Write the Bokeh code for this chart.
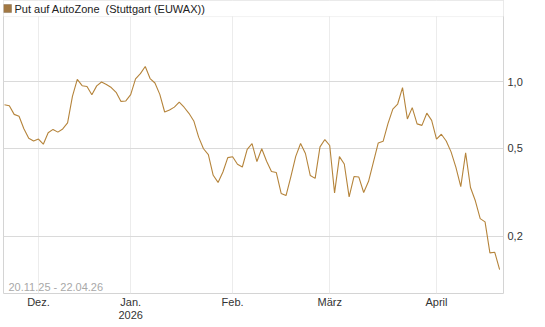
import pandas as pd
from bokeh.plotting import figure
from bokeh.models import (Range1d, FixedTicker, CustomJSTickFormatter, Label,
                          BoxAnnotation)
from bokeh.embed import file_html
from bokeh.resources import INLINE

title = "Put auf AutoZone\u00a0\u00a0(Stuttgart (EUWAX))"
range_text = "20.11.25 - 22.04.26"

holidays = ["2025-12-24", "2025-12-25", "2025-12-26", "2025-12-31",
            "2026-01-01", "2026-04-03", "2026-04-06"]
dates = [d for d in pd.bdate_range("2025-11-20", "2026-04-22")
         if d.strftime("%Y-%m-%d") not in holidays]

values = [0.786, 0.778, 0.711, 0.697, 0.612, 0.555, 0.539, 0.550, 0.521, 0.587,
          0.608, 0.591, 0.611, 0.651, 0.857, 1.024, 0.959, 0.950, 0.873, 0.957,
          0.996, 0.971, 0.940, 0.895, 0.814, 0.818, 0.874, 1.029, 1.087, 1.171,
          1.033, 0.986, 0.876, 0.729, 0.745, 0.767, 0.807, 0.766, 0.719, 0.664,
          0.561, 0.497, 0.468, 0.377, 0.350, 0.390, 0.453, 0.457, 0.423, 0.411,
          0.494, 0.524, 0.435, 0.497, 0.436, 0.392, 0.388, 0.312, 0.305, 0.372,
          0.459, 0.525, 0.473, 0.376, 0.365, 0.507, 0.547, 0.514, 0.314, 0.458,
          0.424, 0.301, 0.372, 0.370, 0.315, 0.354, 0.432, 0.528, 0.537, 0.646,
          0.751, 0.792, 0.939, 0.678, 0.763, 0.644, 0.634, 0.720, 0.668, 0.550,
          0.578, 0.539, 0.481, 0.409, 0.335, 0.476, 0.332, 0.289, 0.240, 0.232,
          0.168, 0.169, 0.141]

month_labels = ["Dez.", "Jan.\n2026", "Feb.", "März", "April"]
y_ticks = [0.2, 0.5, 1.0]

n = min(len(dates), len(values))
idx = list(range(n))
values = values[:n]

month_idx = []
for i in range(1, len(dates)):
    if dates[i].month != dates[i - 1].month:
        month_idx.append(i)

FONT = "Liberation Sans"
LINE = "#b5843b"
X0, X1 = -0.2, 102.8
Y0, Y1 = 0.110, 1.97          # visible data area
PX_PER_DEC = 220.0
PX_PER_X = 500.0 / (X1 - X0)
TOP_PX = 16                   # header strip above data area
Y1_EXT = Y1 * 10 ** (TOP_PX / PX_PER_DEC)


def at_px_above(px):
    """value located px pixels above the data area's top edge"""
    return Y1 * 10 ** (px / PX_PER_DEC)


def at_px_above_bottom(px):
    return Y0 * 10 ** (px / PX_PER_DEC)


def at_px_right(px):
    return X0 + px / PX_PER_X


p = figure(width=545, height=327, y_axis_type="log",
           x_range=Range1d(X0, X1), y_range=Range1d(Y0, Y1_EXT),
           output_backend="svg", toolbar_location=None,
           y_axis_location="right",
           min_border_left=3, min_border_right=42,
           min_border_top=0, min_border_bottom=34)

p.background_fill_color = "white"
p.border_fill_color = "white"
p.outline_line_color = "#d4d4d4"

p.line(x=idx, y=values, line_color=LINE, line_width=1.1)

# x axis
xa = p.xaxis[0]
xa.ticker = FixedTicker(ticks=month_idx)
xa.major_label_overrides = {m: lab for m, lab in zip(month_idx, month_labels)}
xa.axis_line_color = None
xa.major_tick_line_color = None
xa.minor_tick_line_color = None
xa.major_tick_out = 0
xa.major_tick_in = 0
xa.major_label_standoff = 2
xa.major_label_text_font = FONT
xa.major_label_text_font_size = "11px"
xa.major_label_text_line_height = 1.1
xa.major_label_text_color = "#333333"

# y axis
ya = p.yaxis[0]
ya.ticker = FixedTicker(ticks=y_ticks)
ya.formatter = CustomJSTickFormatter(code="return tick.toFixed(1).replace('.', ',');")
ya.axis_line_color = None
ya.major_tick_line_color = None
ya.minor_tick_line_color = None
ya.major_tick_out = 0
ya.major_tick_in = 0
ya.major_label_standoff = 4
ya.major_label_text_font = FONT
ya.major_label_text_font_size = "11px"
ya.major_label_text_color = "#333333"

p.xgrid.ticker = FixedTicker(ticks=month_idx)
p.xgrid.grid_line_color = "#ececec"
p.ygrid.ticker = FixedTicker(ticks=y_ticks)
p.ygrid.grid_line_color = "#dadada"

# white header strip with top border line of data area
p.add_layout(BoxAnnotation(left=X0 - 5, right=X1 + 5, bottom=Y1, top=Y1_EXT * 5,
                           fill_color="white", fill_alpha=1.0,
                           line_color="#d4d4d4", line_width=1))

# legend swatch + title
p.add_layout(BoxAnnotation(left=X0, right=at_px_right(8),
                           bottom=at_px_above(4), top=at_px_above(12),
                           fill_color="#a27843", fill_alpha=1.0,
                           line_color="#4f3a20", line_width=1))
p.add_layout(Label(x=X0, y=at_px_above(8), x_offset=11, text=title,
                   text_font=FONT, text_font_size="11px",
                   text_color="#222222", text_baseline="middle"))

p.add_layout(Label(x=X0, y=at_px_above_bottom(6), x_offset=5, text=range_text,
                   text_font=FONT, text_font_size="11px",
                   text_color="#a8a8a8", text_baseline="middle"))

open("out.html", "w").write(file_html(p, INLINE))
